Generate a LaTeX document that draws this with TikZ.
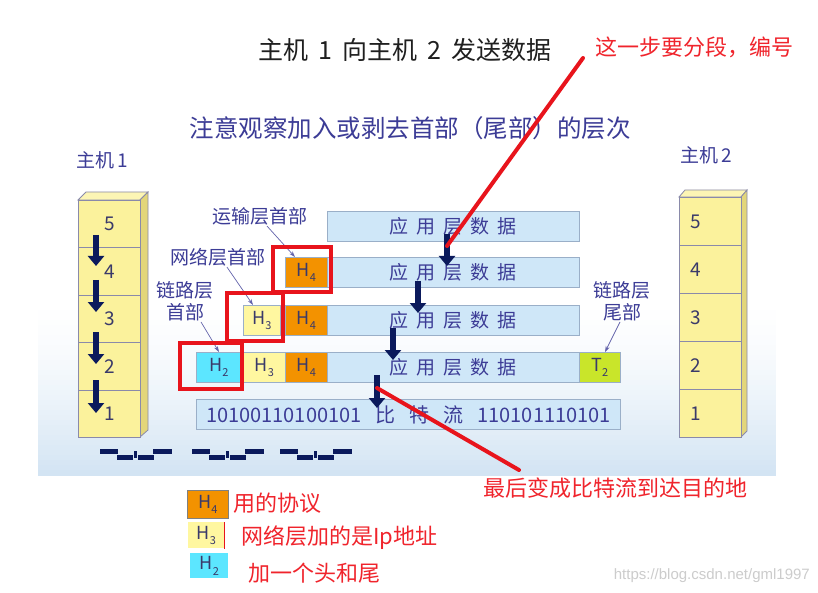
\documentclass[tikz,border=0pt]{standalone}
\usepackage{fontspec}
\setmainfont{Noto Sans CJK SC}
\newfontfamily\wmfont{Liberation Sans}
\usetikzlibrary{arrows.meta}
\definecolor{navy}{HTML}{3C3C96}
\definecolor{darkarrow}{HTML}{0B1A5C}
\definecolor{barfill}{HTML}{CFE7F8}
\definecolor{barline}{HTML}{9AAFC8}
\definecolor{hfour}{HTML}{F39200}
\definecolor{hthree}{HTML}{FFF7A0}
\definecolor{htwo}{HTML}{5CE6FF}
\definecolor{ttwo}{HTML}{C9E52A}
\definecolor{stackfill}{HTML}{FBF29C}
\definecolor{stacktop}{HTML}{FCF5B4}
\definecolor{stackside}{HTML}{E3D67A}
\definecolor{stackline}{HTML}{8A8AAA}
\definecolor{redmark}{HTML}{E8141C}
\definecolor{annot}{HTML}{F0242C}
\definecolor{bgblue}{HTML}{D3E4F3}
\definecolor{htext}{HTML}{3A3A6A}
\newcommand\hsub[1]{H\raisebox{-0.3em}{\fontsize{11}{11}\selectfont #1}}
\tikzset{
  bar/.style={draw=barline, fill=barfill, line width=0.8pt, inner sep=0pt, anchor=north west,
    text=navy, font=\fontsize{19}{19}\selectfont},
  hbox/.style={draw=barline, line width=0.8pt, inner sep=0pt, anchor=north west, text=htext,
    font=\fontsize{18}{18}\selectfont, minimum height=30pt},
  stackrow/.style={draw=stackline, fill=stackfill, line width=0.8pt, inner sep=0pt, anchor=north west,
    minimum width=62pt, text=htext, font=\fontsize{19}{19}\selectfont},
  lbl/.style={text=navy, font=\fontsize{19}{22}\selectfont, inner sep=1pt},
  pointer/.style={draw=navy!80, line width=0.7pt, -{Stealth[length=6pt,width=4pt]}},
  blockarrow/.style={draw=darkarrow, line width=6.5pt, -{Triangle[length=10pt,width=16pt]}},
  redframe/.style={draw=redmark, line width=3.5pt},
  redline/.style={draw=redmark, line width=4pt, line cap=round},
  annot/.style={text=annot, font=\fontsize{22}{22}\selectfont, inner sep=0pt},
}
\begin{document}
\begin{tikzpicture}[x=1pt,y=-1pt]
\useasboundingbox (0,0) rectangle (818,593);
\fill[white] (0,0) rectangle (818,593);
% slide background: soft sky band
\foreach \i in {0,...,34} {
  \pgfmathsetmacro\pct{100*(\i/34)^1.5}
  \fill[bgblue!\pct!white] (38,{300+5*\i}) rectangle (776,{305.6+5*\i});
}

% titles
\node[font=\fontsize{25}{25}\selectfont, text=black!88] (title) at (405,50) {主机\hspace{10pt}1\hspace{10pt}向主机\hspace{10pt}2\hspace{10pt}发送数据};
\node[font=\fontsize{24.5}{24.5}\selectfont, text=navy] (sub) at (410,128) {注意观察加入或剥去首部（尾部）的层次};
\node[font=\fontsize{19}{19}\selectfont, text=navy] (host1) at (102,160) {主机\hspace{3pt}1};
\node[font=\fontsize{19}{19}\selectfont, text=navy] (host2) at (706,155) {主机\hspace{3pt}2};

% host 1 stack
\filldraw[fill=stacktop, draw=stackline, line width=0.8pt] (78,200) -- (86,192) -- (148,192) -- (140,200) -- cycle;
\filldraw[fill=stackside, draw=stackline, line width=0.8pt] (140,200) -- (148,192) -- (148,430) -- (140,437) -- cycle;
\node[stackrow, minimum height=47.4pt] (a5) at (78,200) {5};
\node[stackrow, minimum height=47.4pt] (a4) at (78,247.4) {4};
\node[stackrow, minimum height=47.4pt] (a3) at (78,294.8) {3};
\node[stackrow, minimum height=47.4pt] (a2) at (78,342.2) {2};
\node[stackrow, minimum height=47.4pt] (a1) at (78,389.6) {1};
\draw[blockarrow] (96,235) -- (96,266);
\draw[blockarrow] (96,280) -- (96,312);
\draw[blockarrow] (96,332) -- (96,364);
\draw[blockarrow] (96,380) -- (96,413);

% host 2 stack
\filldraw[fill=stacktop, draw=stackline, line width=0.8pt] (679,197) -- (685,190) -- (747,190) -- (741,197) -- cycle;
\filldraw[fill=stackside, draw=stackline, line width=0.8pt] (741,197) -- (747,190) -- (747,431) -- (741,437) -- cycle;
\node[stackrow, minimum height=48pt, align=left, text width=55pt] (b5) at (679,197) {\hspace{8pt}5};
\node[stackrow, minimum height=48pt, align=left, text width=55pt] (b4) at (679,245) {\hspace{8pt}4};
\node[stackrow, minimum height=48pt, align=left, text width=55pt] (b3) at (679,293) {\hspace{8pt}3};
\node[stackrow, minimum height=48pt, align=left, text width=55pt] (b2) at (679,341) {\hspace{8pt}2};
\node[stackrow, minimum height=48pt, align=left, text width=55pt] (b1) at (679,389) {\hspace{8pt}1};

% data rows
\node[bar, minimum width=252pt, minimum height=30pt] (d1) at (327,211) {应\hspace{8pt}用\hspace{8pt}层\hspace{8pt}数\hspace{8pt}据};
\node[bar, minimum width=252pt, minimum height=30pt] (d2) at (327,257) {应\hspace{8pt}用\hspace{8pt}层\hspace{8pt}数\hspace{8pt}据};
\node[bar, minimum width=252pt, minimum height=30pt] (d3) at (327,305) {应\hspace{8pt}用\hspace{8pt}层\hspace{8pt}数\hspace{8pt}据};
\node[bar, minimum width=252pt, minimum height=30pt] (d4) at (327,352) {应\hspace{8pt}用\hspace{8pt}层\hspace{8pt}数\hspace{8pt}据};
\node[bar, minimum width=424pt, minimum height=30pt, font=\fontsize{20}{20}\selectfont] (bits) at (196,399) {10100110100101\hspace{14pt}比\hspace{14pt}特\hspace{14pt}流\hspace{14pt}110101110101};

\node[hbox, fill=hfour, minimum width=42pt] (h4a) at (285,257) {\hsub4};
\node[hbox, fill=hfour, minimum width=42pt] (h4b) at (285,305) {\hsub4};
\node[hbox, fill=hthree, minimum width=37pt] (h3b) at (243,305) {\hsub3};
\node[hbox, fill=hfour, minimum width=42pt] (h4c) at (285,352) {\hsub4};
\node[hbox, fill=hthree, minimum width=42pt] (h3c) at (243,352) {\hsub3};
\node[hbox, fill=htwo, minimum width=45pt] (h2c) at (196,352) {\hsub2};
\node[hbox, fill=ttwo, minimum width=41pt] (t2) at (579,352) {T\raisebox{-0.3em}{\fontsize{11}{11}\selectfont 2}};

% flow arrows
\draw[blockarrow] (447,234) -- (447,266);
\draw[blockarrow] (418,281) -- (418,313);
\draw[blockarrow] (393,328) -- (393,360);
\draw[blockarrow] (377,375) -- (377,408);

% labels
\node[lbl] (lt) at (260,216) {运输层首部};
\node[lbl] (ln) at (218,257) {网络层首部};
\node[lbl, align=center] (ll) at (185,301) {链路层\\首部};
\node[lbl, align=center] (lr) at (622,301) {链路层\\尾部};
\draw[pointer] ([xshift=7pt]lt.south) -- ([xshift=10pt]h4a.north west);
\draw[pointer] ([xshift=9pt]ln.south) -- ([xshift=10pt]h3b.north west);
\draw[pointer] ([xshift=16pt]ll.south) -- ([xshift=23pt]h2c.north west);
\draw[pointer] ([xshift=-2pt]lr.south) -- ([xshift=26pt]t2.north west);

% red frames
\draw[redframe] (273,247) rectangle (331,292);
\draw[redframe] (227,293) rectangle (283,341);
\draw[redframe] (180,343) rectangle (242,389);

% bit waveform
\foreach \gx in {100,192,280} {
  \begin{scope}[shift={(\gx,0)}]
    \fill[darkarrow] (0,449) rectangle (18,454);
    \fill[darkarrow] (17,455) rectangle (33,460);
    \fill[darkarrow] (34,451) rectangle (36.5,458);
    \fill[darkarrow] (37.5,455) rectangle (54,460);
    \fill[darkarrow] (53,449) rectangle (72,454);
  \end{scope}
}

% red annotations
\node[annot, anchor=west] (n1) at (595,47) {这一步要分段，编号};
\coordinate (r1s) at (583,58);
\coordinate (r1e) at (447,246);
\draw[redline] (r1s) -- (r1e);
\node[annot, anchor=west] (n2) at (483,488) {最后变成比特流到达目的地};
\coordinate (r2s) at (377,388);
\coordinate (r2e) at (519,470);
\draw[redline] (r2s) -- (r2e);

% legend
\node[hbox, fill=hfour, minimum width=41pt, minimum height=28pt, draw=gray] (k4) at (187,490) {\hsub4};
\node[annot, anchor=west] (k4t) at (233,503) {用的协议};
\node[hbox, fill=hthree, minimum width=36pt, minimum height=26pt, draw=none] (k3) at (188,522) {\hsub3};
\draw[redmark, line width=0.8pt] (k3.north east) -- (k3.south east);
\node[annot, anchor=west] (k3t) at (241,538) {网络层加的是Ip地址};
\node[hbox, fill=htwo, minimum width=38pt, minimum height=25pt, draw=none] (k2) at (190,553) {\hsub2};
\node[annot, anchor=west] (k2t) at (248,573) {加一个头和尾};

\node[anchor=east, text=gray!40, font=\wmfont\fontsize{15}{15}\selectfont, inner sep=0pt] (wm) at (810,576) {https://blog.csdn.net/gml1997};
\end{tikzpicture}
\end{document}
